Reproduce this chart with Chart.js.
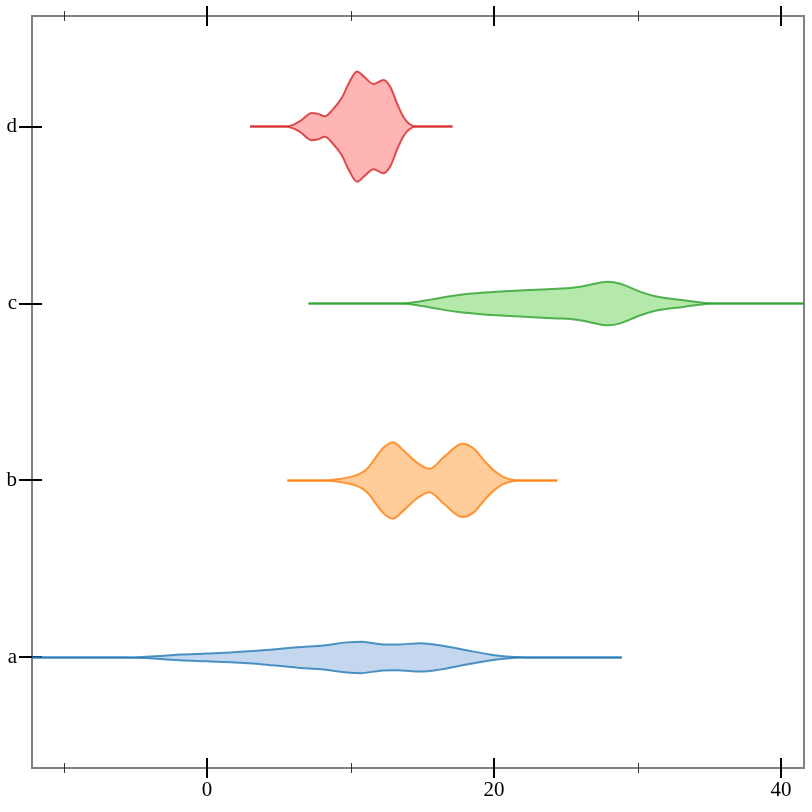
<!DOCTYPE html>
<html>
<head>
<meta charset="utf-8">
<script src="https://cdn.jsdelivr.net/npm/chart.js@4/dist/chart.umd.min.js"></script>
<style>
  html, body { margin: 0; padding: 0; background: #ffffff; }
  #wrap { width: 812px; height: 812px; }
</style>
</head>
<body>
<div id="wrap"><canvas id="c" width="812" height="812"></canvas></div>
<script>
// ---- data ----
const categories = ['a', 'b', 'c', 'd'];
const xTickValues = [0, 20, 40];
const xMinorTickValues = [-10, 10, 30];

// value positions (x) and half-width of the density (category units)
const aX = [-13, -5.6, -4.3, -3.0, -1.9, 0.0, 1.6, 3.9, 6.3, 8.1, 9.75, 10.7, 12.1, 13.2, 14.9, 16.2, 18.1, 19.7, 20.7, 21.5, 22.2, 28.9];
const aW = [0, 0, 0.004, 0.010, 0.016, 0.022, 0.028, 0.040, 0.058, 0.068, 0.085, 0.089, 0.075, 0.073, 0.080, 0.069, 0.040, 0.017, 0.007, 0.002, 0, 0];

const bX = [5.6, 8.2, 8.9, 9.75, 10.5, 10.9, 11.3, 11.6, 12.3, 12.96, 13.7, 14.6, 15.5, 16.5, 17.8, 18.6, 19.3, 20.0, 20.6, 21.2, 21.8, 24.4];
const bW = [0, 0, 0.005, 0.016, 0.033, 0.050, 0.080, 0.113, 0.186, 0.216, 0.169, 0.103, 0.066, 0.132, 0.207, 0.179, 0.113, 0.056, 0.022, 0.006, 0, 0];

const cX = [7.07, 13.4, 14.4, 15.56, 17.4, 19.3, 22.1, 24.4, 25.3, 26.1, 26.9, 27.9, 28.8, 30.2, 31.4, 33.2, 34.3, 35.5, 43];
const cW = [0, 0, 0.007, 0.022, 0.047, 0.062, 0.075, 0.084, 0.088, 0.096, 0.110, 0.123, 0.112, 0.066, 0.038, 0.019, 0.007, 0, 0];

const dX = [3.0, 5.4, 6.0, 6.5, 7.3, 7.75, 8.2, 8.8, 9.4, 9.85, 10.45, 11.0, 11.6, 12.3, 12.8, 13.25, 13.7, 14.1, 14.6, 17.1];
const dW = [0, 0, 0.010, 0.032, 0.077, 0.072, 0.058, 0.100, 0.164, 0.241, 0.312, 0.277, 0.241, 0.264, 0.220, 0.128, 0.053, 0.015, 0, 0];

const seriesX = [aX, bX, cX, dX];
const seriesW = [aW, bW, cW, dW];

const lineColors = ['rgba(31,119,180,0.78)', 'rgba(255,127,14,0.8)', 'rgba(44,160,44,0.8)', 'rgba(214,39,40,0.8)'];
const fillColors = ['rgba(174,199,232,0.72)', 'rgba(255,187,120,0.75)', 'rgba(152,223,138,0.72)', 'rgba(255,152,150,0.72)'];

// ---- datasets ----
const datasets = [];
categories.forEach((cat, i) => {
  const xs = seriesX[i], ws = seriesW[i];
  const lower = xs.map((x, k) => ({ x: x, y: i - ws[k] }));
  const upper = xs.map((x, k) => ({ x: x, y: i + ws[k] }));
  const common = {
    showLine: true, pointRadius: 0, pointHoverRadius: 0, borderWidth: 2,
    borderColor: lineColors[i], cubicInterpolationMode: 'monotone', clip: 0
  };
  datasets.push(Object.assign({ label: cat + ' lower', data: lower, fill: false }, common));
  datasets.push(Object.assign({ label: cat + ' upper', data: upper, fill: '-1', backgroundColor: fillColors[i] }, common));
});

const FONT = "'Liberation Serif', 'Times New Roman', serif";

const frame = {
  id: 'frame',
  beforeDatasetsDraw(chart) {
    const ctx = chart.ctx, a = chart.chartArea;
    const xs = chart.scales.x, ys = chart.scales.y;
    ctx.save();
    ctx.strokeStyle = '#808080';
    ctx.lineWidth = 2;
    ctx.strokeRect(a.left, a.top, a.right - a.left, a.bottom - a.top);
    // major x ticks
    ctx.strokeStyle = '#000';
    ctx.lineWidth = 2;
    xTickValues.forEach(v => {
      const px = Math.round(xs.getPixelForValue(v));
      ctx.beginPath();
      ctx.moveTo(px, a.bottom - 10); ctx.lineTo(px, a.bottom + 10);
      ctx.moveTo(px, a.top - 10); ctx.lineTo(px, a.top + 10);
      ctx.stroke();
    });
    // minor x ticks
    ctx.lineWidth = 1;
    ctx.strokeStyle = '#333';
    xMinorTickValues.forEach(v => {
      const px = Math.round(xs.getPixelForValue(v)) + 0.5;
      ctx.beginPath();
      ctx.moveTo(px, a.bottom - 5); ctx.lineTo(px, a.bottom + 5);
      ctx.moveTo(px, a.top - 5); ctx.lineTo(px, a.top + 5);
      ctx.stroke();
    });
    // y ticks
    ctx.strokeStyle = '#000';
    ctx.lineWidth = 2;
    categories.forEach((c, i) => {
      const py = Math.round(ys.getPixelForValue(i));
      ctx.beginPath();
      ctx.moveTo(a.left - 13, py); ctx.lineTo(a.left + 10, py);
      ctx.stroke();
    });
    ctx.restore();
  }
};

new Chart(document.getElementById('c'), {
  type: 'scatter',
  data: { datasets: datasets },
  options: {
    responsive: false,
    animation: false,
    events: [],
    layout: { padding: { left: 0, right: 8, top: 16, bottom: 0 } },
    plugins: { legend: { display: false }, tooltip: { enabled: false } },
    scales: {
      x: {
        type: 'linear', position: 'bottom', min: -12.2, max: 41.6,
        grid: { display: false, drawTicks: false },
        border: { display: false },
        afterBuildTicks: s => { s.ticks = xTickValues.map(v => ({ value: v })); },
        afterFit: s => { s.height = 44; s.paddingLeft = 0; s.paddingRight = 0; },
        ticks: { color: '#000', font: { family: FONT, size: 21 }, padding: 10, maxRotation: 0, autoSkip: false }
      },
      y: {
        type: 'linear', position: 'left', min: -0.625, max: 3.625,
        grid: { display: false, drawTicks: false },
        border: { display: false },
        afterBuildTicks: s => { s.ticks = categories.map((c, i) => ({ value: i })); },
        afterFit: s => { s.width = 32; s.paddingTop = 0; s.paddingBottom = 0; },
        ticks: { color: '#000', font: { family: FONT, size: 21 }, padding: 15, autoSkip: false,
                 callback: v => categories[v] }
      }
    }
  },
  plugins: [frame]
});
</script>
</body>
</html>
